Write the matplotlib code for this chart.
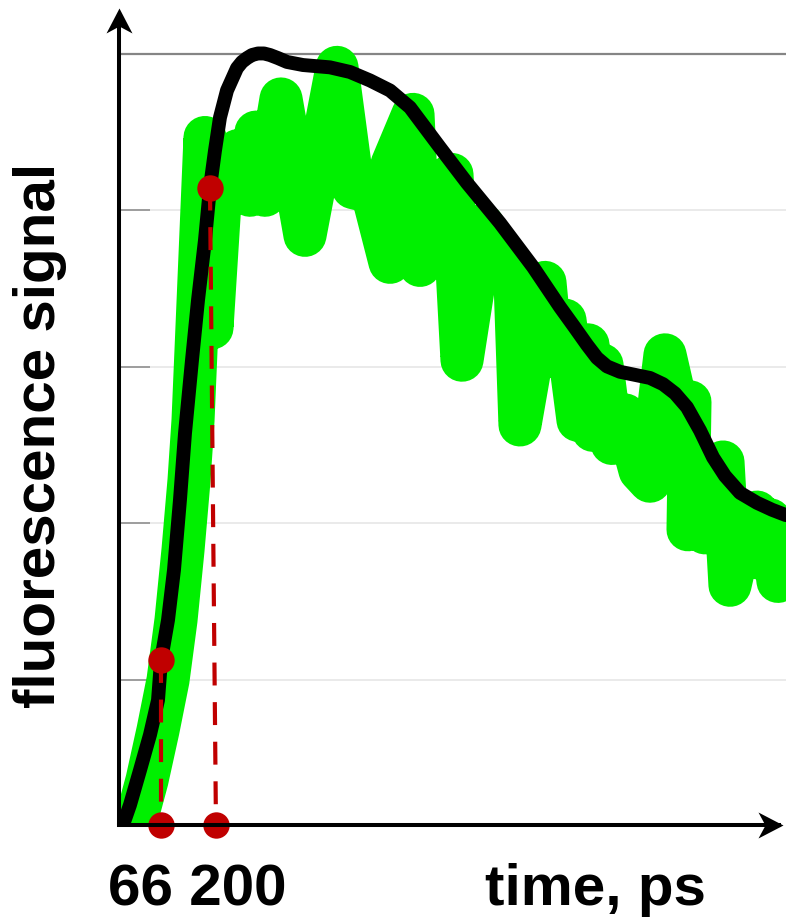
import numpy as np
import matplotlib
matplotlib.use("Agg")
from matplotlib import pyplot as plt
from matplotlib.path import Path

plt.rcParams['font.family'] = ['Liberation Sans', 'DejaVu Sans']

# measured signal (noisy), time in ps, signal in % of max
raw_t = [2.4, 31.7, 58.6, 83.0, 102.5, 119.6, 134.2, 144.0, 151.3, 173.2,
         190.3, 214.7, 253.8, 283.0, 297.7, 319.6, 358.7, 417.2, 495.3, 534.4,
         580.7, 624.6, 629.5, 680.8, 697.8, 727.1, 775.9, 800.3, 851.6, 929.6,
         941.8, 1002.8, 1019.9, 1051.6, 1083.4, 1107.8, 1120.0, 1141.9, 1166.3, 1198.0,
         1234.6, 1259.0, 1295.6, 1332.2, 1356.6, 1351.8, 1381.0, 1393.2, 1437.2, 1454.2,
         1490.8, 1520.1, 1527.4, 1551.8, 1571.4, 1605.5]
raw_s = [0, 5.8, 12.3, 18.8, 26.6, 35.7, 44.7, 52.5, 61.6, 89.2,
         64.5, 85.0, 87.5, 81.7, 89.9, 81.7, 94.2, 76.5, 98.3, 82.7,
         82.1, 73.0, 85.7, 92.2, 72.6, 79.1, 84.4, 60.3, 77.8, 70.7,
         51.9, 70.4, 60.8, 65.5, 52.5, 62.3, 51.2, 59.7, 49.5, 53.2,
         46.0, 44.6, 61.0, 52.5, 54.9, 38.3, 44.7, 37.9, 47.1, 31.1,
         39.6, 40.6, 34.6, 39.6, 31.6, 38.3]

# fitted curve
fit_t = [-26.8, -9.8, 14.6, 39.0, 58.6, 66.0, 83.0, 97.6, 112.2, 124.4,
         141.5, 156.2, 173.2, 185.4, 197.6, 209.8, 226.9, 251.3, 263.5, 275.7,
         287.9, 302.6, 317.2, 331.8, 351.4, 373.3, 412.4, 478.2, 527.0, 575.8,
         624.6, 673.4, 746.6, 812.5, 893.0, 973.6, 1039.4, 1076.0, 1105.3, 1129.7,
         1154.1, 1185.8, 1222.4, 1259.0, 1290.8, 1320.0, 1349.3, 1381.0, 1412.8, 1442.0,
         1478.6, 1520.1, 1556.7, 1590.9]
fit_s = [0, 2.6, 7.1, 11.7, 16.2, 21.4, 26.6, 33.1, 42.2, 50.8,
         60.3, 68.1, 75.9, 82.7, 87.5, 91.8, 95.3, 98.2, 99.0, 99.5,
         99.9, 100.1, 100.1, 99.9, 99.5, 99.0, 98.6, 98.3, 97.7, 96.6,
         95.3, 93.1, 87.9, 83.3, 78.1, 72.4, 67.2, 64.5, 62.3, 60.6,
         59.5, 58.8, 58.4, 58.0, 57.2, 56.0, 54.2, 51.2, 47.7, 45.3,
         43.1, 41.8, 40.9, 40.2]

# marked times and where the fit crosses them
mark_t = [66, 200]
mark_curve_t = [66.0, 185.4]
mark_curve_s = [21.4, 82.7]

grid_levels = [18.8, 39.2, 59.4, 79.8, 100.0]

RED = '#c00000'

fig = plt.figure(figsize=(7.86, 9.19), dpi=100)
ax = fig.add_axes([0.1514, 0.1023, 0.8486, 0.889])
ax.set_xlim(-36.6, 1590.9)
ax.set_ylim(0, 106.0)
for sp in ax.spines.values():
    sp.set_visible(False)

# grid: light lines, darker one at the top
for lvl in grid_levels[:-1]:
    ax.axhline(lvl, color='#e4e4e4', lw=1.1, zorder=0)
ax.axhline(grid_levels[-1], color='#858585', lw=1.6, zorder=0)
ax.set_xticks([])
ax.set_yticks(grid_levels[:-1])
ax.tick_params(axis='y', direction='in', length=22, width=1.2,
               color='#909090', labelleft=False)

ax.plot(raw_t, raw_s, color='#00f000', lw=31, solid_joinstyle='round',
        solid_capstyle='round', zorder=2)
ax.plot(fit_t, fit_s, color='black', lw=10, solid_joinstyle='round',
        solid_capstyle='round', zorder=3)

for t0, tc, sc in zip(mark_t, mark_curve_t, mark_curve_s):
    ax.plot([tc, t0], [sc, 0], color=RED, lw=3, dashes=(5.5, 4),
            zorder=4, clip_on=False)
    ax.plot([tc, t0], [sc, 0], 'o', color=RED, ms=19, mec='none',
            zorder=5, clip_on=False)

# axes with arrow heads
ax.plot([0, 0], [0, 0.985], color='black', lw=2.9, transform=ax.transAxes,
        clip_on=False, zorder=6, solid_capstyle='butt')
ax.plot([0, 0.99], [0, 0], color='black', lw=2.9, transform=ax.transAxes,
        clip_on=False, zorder=6, solid_capstyle='projecting')
up = Path([(0, 0), (-0.52, -1), (0, -0.72), (0.52, -1), (0, 0)],
          [Path.MOVETO, Path.LINETO, Path.LINETO, Path.LINETO, Path.CLOSEPOLY])
right = Path([(0, 0), (-1, -0.52), (-0.72, 0), (-1, 0.52), (0, 0)],
             [Path.MOVETO, Path.LINETO, Path.LINETO, Path.LINETO, Path.CLOSEPOLY])
ax.plot([0], [1.0], marker=up, ms=36, color='black', mec='none',
        transform=ax.transAxes, clip_on=False, zorder=7)
ax.plot([0.9955], [0], marker=right, ms=36, color='black', mec='none',
        transform=ax.transAxes, clip_on=False, zorder=7)

fig.text(0.051, 0.526, 'fluorescence signal', rotation=90, ha='center',
         va='center', fontsize=42, fontweight='bold')
fig.text(108 / 786, 0.0152, ' '.join(str(t) for t in mark_t), ha='left',
         va='baseline', fontsize=42, fontweight='bold')
fig.text(485 / 786, 0.0152, 'time, ps', ha='left', va='baseline',
         fontsize=42, fontweight='bold')

fig.savefig('out.png', dpi=100)
